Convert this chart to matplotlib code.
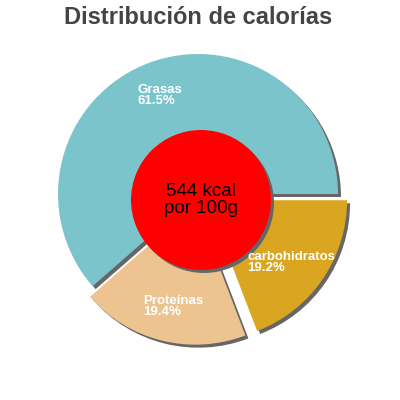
import matplotlib
matplotlib.use("Agg")
import matplotlib.pyplot as plt
from matplotlib.patches import Circle

labels = ["Grasas", "Proteínas", "carbohidratos"]
values = [61.5, 19.4, 19.2]
colors = ["#7bc4cc", "#edc490", "#daa520"]
explode = [0.0, 11, 11]  # data units (pixels)
title = "Distribución de calorías"
center_text = "544 kcal\npor 100g"

plt.rcParams['font.family'] = ['Liberation Sans', 'DejaVu Sans']

fig = plt.figure(figsize=(4, 4), dpi=100)
ax = fig.add_axes([0, 0, 1, 1])
ax.set_xlim(0, 400)
ax.set_ylim(0, 400)
ax.set_aspect('equal')
ax.axis('off')

cx, cy, r = 198, 206, 140
sh = 3

# shadows
ax.pie(values, colors=["#666666"] * 3, explode=explode, startangle=0,
       counterclock=True, center=(cx + sh, cy - sh), radius=r,
       wedgeprops=dict(linewidth=0))
# main slices
ax.pie(values, colors=colors, explode=explode, startangle=0,
       counterclock=True, center=(cx, cy), radius=r,
       wedgeprops=dict(linewidth=0))
ax.set_xlim(0, 400)
ax.set_ylim(0, 400)

# labels
label_pos = {"Grasas": (138, 400 - 84), "Proteínas": (143, 400 - 295),
             "carbohidratos": (247, 400 - 251)}
for lab, val in zip(labels, values):
    x, y = label_pos[lab]
    ax.text(x, y, f"{lab}\n{val}%", color="white", fontsize=9.5,
            fontweight="bold", ha="left", va="top", linespacing=0.92)

# center circle
ax.add_patch(Circle((201 + sh, 200 - sh), 70, color="#666666", lw=0))
ax.add_patch(Circle((201, 200), 70, color="#ff0000", lw=0))
ax.text(201, 200, center_text, ha="center", va="center", fontsize=13.5,
        color="black", linespacing=1.0)

fig.text(198 / 400, 1 - 17 / 400, title, ha="center", va="center",
         fontsize=17, fontweight="bold", color="#444444")

fig.savefig("out.png", dpi=100)
